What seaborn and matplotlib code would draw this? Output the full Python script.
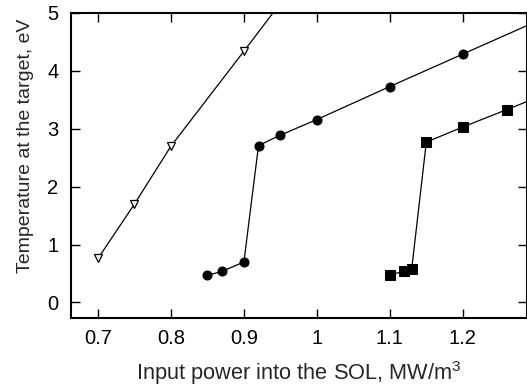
import numpy as np
import pandas as pd
import matplotlib
matplotlib.use("Agg")
import matplotlib.pyplot as plt
import seaborn as sns

# Series (last point of each is beyond the frame, clipped)
tri_x = [0.70, 0.75, 0.80, 0.90, 1.00]
tri_y = [0.76, 1.70, 2.70, 4.34, 6.00]

circ_x = [0.85, 0.87, 0.90, 0.92, 0.95, 1.00, 1.10, 1.20, 1.30]
circ_y = [0.47, 0.535, 0.70, 2.71, 2.89, 3.16, 3.73, 4.29, 4.85]

sq_x = [1.10, 1.12, 1.13, 1.15, 1.20, 1.26, 1.30]
sq_y = [0.48, 0.535, 0.58, 2.77, 3.03, 3.33, 3.53]

x_ticks = [0.7, 0.8, 0.9, 1.0, 1.1, 1.2]
x_labels = ["0.7", "0.8", "0.9", "1", "1.1", "1.2"]
y_ticks = [0, 1, 2, 3, 4, 5]

sns.set_style("ticks")
plt.rcParams['font.family'] = ['Liberation Sans', 'DejaVu Sans']
plt.rcParams['mathtext.fontset'] = 'custom'
plt.rcParams['mathtext.rm'] = 'Liberation Sans'

fig = plt.figure(figsize=(5.27, 3.87), dpi=100)
ax = fig.add_axes([71 / 527, 1 - 317.5 / 387, 1 - 71 / 527, (317.5 - 13) / 387])

df_tri = pd.DataFrame({"x": tri_x, "y": tri_y})
df_circ = pd.DataFrame({"x": circ_x, "y": circ_y})
df_sq = pd.DataFrame({"x": sq_x, "y": sq_y})

sns.lineplot(data=df_tri, x="x", y="y", ax=ax, color="black", linewidth=0.9,
             marker="v", markersize=6, markerfacecolor="white",
             markeredgecolor="black", markeredgewidth=0.9, sort=False)
sns.lineplot(data=df_circ, x="x", y="y", ax=ax, color="black", linewidth=0.9,
             marker="o", markersize=6.5, markerfacecolor="black",
             markeredgecolor="black", sort=False)
sns.lineplot(data=df_sq, x="x", y="y", ax=ax, color="black", linewidth=0.9,
             marker="s", markersize=6.5, markerfacecolor="black",
             markeredgecolor="black", sort=False)

ax.set_xlim(0.663, 1.288)
ax.set_ylim(-0.26, 5.0)
ax.set_xticks(x_ticks)
ax.set_xticklabels(x_labels)
ax.set_yticks(y_ticks)

for s in ax.spines.values():
    s.set_visible(True)
    s.set_linewidth(1.5)
    s.set_color("black")

ax.tick_params(direction="in", length=6.5, width=1.0, top=True, right=True,
               labelsize=14.5, colors="black")
ax.tick_params(axis="x", pad=8)
ax.tick_params(axis="y", pad=9)

ax.set_xlabel("Input power into the SOL, MW/m$^3$", fontsize=15.7, labelpad=8)
ax.set_ylabel("Temperature at the target, eV", fontsize=14)
ax.yaxis.set_label_coords(-0.081, 0.565)

fig.savefig("out.png", dpi=100)
